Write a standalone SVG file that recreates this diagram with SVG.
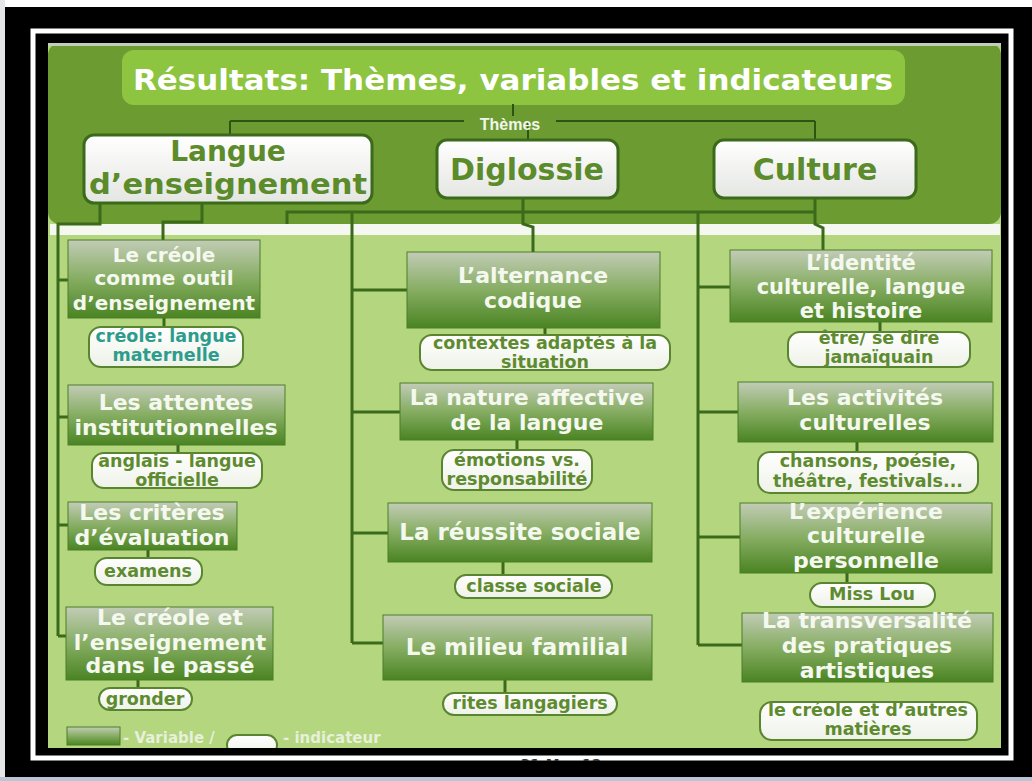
<svg xmlns="http://www.w3.org/2000/svg" width="1032" height="781" viewBox="0 0 1032 781">
<defs>
<linearGradient id="vg" x1="0" y1="0" x2="0" y2="1">
<stop offset="0" stop-color="#c2ccb6"/>
<stop offset="0.5" stop-color="#86ad62"/>
<stop offset="1" stop-color="#4a8422"/>
</linearGradient>
<linearGradient id="pg" x1="0" y1="0" x2="0" y2="1">
<stop offset="0" stop-color="#ffffff"/>
<stop offset="1" stop-color="#eef2e8"/>
</linearGradient>
<linearGradient id="tg" x1="0" y1="0" x2="0" y2="1">
<stop offset="0" stop-color="#ffffff"/>
<stop offset="1" stop-color="#e4e6e2"/>
</linearGradient>
<clipPath id="panelClip"><rect x="48" y="43" width="953" height="705"/></clipPath>
<style>
.vb{fill:url(#vg);stroke:#4d7d28;stroke-width:1}
.vt{font-family:"DejaVu Sans",Verdana,sans-serif;font-weight:bold;fill:#f5f8ef;text-anchor:middle}
.pill{fill:url(#pg);stroke:#5a8530;stroke-width:2}
.it{font-family:"DejaVu Sans",Verdana,sans-serif;font-weight:bold;font-size:17.5px;fill:#5e8b30;text-anchor:middle}
.tb{fill:url(#tg);stroke:#3a6a1a;stroke-width:3}
.tt{font-family:"DejaVu Sans",Verdana,sans-serif;font-weight:bold;font-size:30px;fill:#5b8b2b;text-anchor:middle}
.ct{fill:none;stroke:#2d5512;stroke-width:2}
.cb{fill:none;stroke:#3b6a1b;stroke-width:3}
</style>
</defs>

<!-- frame -->
<rect x="0" y="0" width="1032" height="781" fill="#ffffff"/>
<rect x="0" y="0" width="5" height="781" fill="#e4e6ea"/>
<rect x="5" y="7" width="1027" height="770" fill="#000000"/>
<rect x="0" y="777" width="1032" height="4" fill="#b9c6d4"/>
<rect x="33" y="31" width="978" height="727" fill="none" stroke="#ffffff" stroke-width="5"/>
<text x="561" y="769" font-family="'DejaVu Sans',sans-serif" font-size="14" font-weight="bold" fill="#333333" text-anchor="middle">31-Mar-12</text>
<rect x="36" y="761" width="990" height="16" fill="#000000"/>

<!-- panel -->
<rect x="48" y="43" width="953" height="705" fill="#b3d67f"/>
<rect x="48" y="43" width="953" height="181" rx="12" fill="#6c9b32"/>
<rect x="48" y="43" width="953" height="3" fill="#c4ccbc"/>
<rect x="50" y="224" width="950" height="11" fill="#f4f8f0"/>

<!-- title -->
<g id="title">
<rect x="122" y="50" width="783" height="55" rx="12" fill="#8dc540"/>
<text x="513" y="90" font-family="'DejaVu Sans',Verdana,sans-serif" font-weight="bold" font-size="29" fill="#ffffff" text-anchor="middle" textLength="760" lengthAdjust="spacingAndGlyphs">Résultats: Thèmes, variables et indicateurs</text>
</g>

<!-- connectors -->
<g id="connectors">
<path class="ct" d="M513 104V116M230 121H464M556 121H815M230 121V135M528 121V140M815 121V140"/>
<path class="cb" d="M100 203V224H58V636"/>
<path class="cb" d="M58 280H68M58 417H68M58 525H68M58 636H66"/>
<path class="cb" d="M202 203V222H163V240"/>
<path class="cb" d="M287 224V212H815"/>
<path class="cb" d="M523 198V224L533 227V252"/>
<path class="cb" d="M352 212V643M352 290H407M352 412H400M352 533H388M352 643H383"/>
<path class="cb" d="M815 198V224L823 228V250"/>
<path class="cb" d="M698 212V645M698 287H730M698 412H738M698 537H740M698 645H742"/>
<path class="cb" d="M164 318V327M178 445V453M148 550V558M138 680V688M545 328V335M517 440V450M503 562V575M505 680V693M880 322V332M857 442V452M847 573V583"/>
</g>
<text x="510" y="130" font-family="'Liberation Sans',Arial,sans-serif" font-weight="bold" font-size="16" fill="#f2f6ea" text-anchor="middle">Thèmes</text>

<!-- themes -->
<g id="theme-langue">
<rect class="tb" x="84" y="135" width="288" height="68" rx="10"/>
<text class="tt" x="228" y="161" font-size="28" style="font-size:28px">Langue</text>
<text class="tt" x="228" y="194" style="font-size:28px" textLength="278" lengthAdjust="spacingAndGlyphs">d’enseignement</text>
</g>
<g id="theme-diglossie">
<rect class="tb" x="437" y="140" width="181" height="58" rx="10"/>
<text class="tt" x="527" y="180">Diglossie</text>
</g>
<g id="theme-culture">
<rect class="tb" x="714" y="140" width="202" height="58" rx="10"/>
<text class="tt" x="815" y="180">Culture</text>
</g>

<!-- variables: langue -->
<g id="v-creole-outil">
<rect class="vb" x="68" y="240" width="192" height="78"/>
<text class="vt" font-size="20" x="164" y="262">Le créole</text>
<text class="vt" font-size="20" x="164" y="285">comme outil</text>
<text class="vt" font-size="20" x="164" y="310">d’enseignement</text>
</g>
<g id="i-creole-maternelle">
<rect class="pill" x="89" y="327" width="154" height="40" rx="12"/>
<text class="it" x="166" y="342" style="fill:#2e9c8c">créole: langue</text>
<text class="it" x="166" y="361" style="fill:#2e9c8c">maternelle</text>
</g>
<g id="v-attentes">
<rect class="vb" x="68" y="385" width="217" height="60"/>
<text class="vt" font-size="22" x="176" y="410">Les attentes</text>
<text class="vt" font-size="22" x="176" y="435">institutionnelles</text>
</g>
<g id="i-anglais">
<rect class="pill" x="92" y="453" width="170" height="35" rx="12"/>
<text class="it" x="177" y="467">anglais - langue</text>
<text class="it" x="177" y="486">officielle</text>
</g>
<g id="v-criteres">
<rect class="vb" x="68" y="502" width="169" height="48"/>
<text class="vt" font-size="22" x="152" y="520">Les critères</text>
<text class="vt" font-size="22" x="152" y="545">d’évaluation</text>
</g>
<g id="i-examens">
<rect class="pill" x="95" y="558" width="107" height="27" rx="12"/>
<text class="it" x="148" y="577">examens</text>
</g>
<g id="v-passe">
<rect class="vb" x="66" y="607" width="207" height="73"/>
<text class="vt" font-size="22" x="170" y="625">Le créole et</text>
<text class="vt" font-size="22" x="170" y="650">l’enseignement</text>
<text class="vt" font-size="22" x="170" y="673">dans le passé</text>
</g>
<g id="i-gronder">
<rect class="pill" x="99" y="688" width="93" height="22" rx="11"/>
<text class="it" x="145" y="705">gronder</text>
</g>

<!-- variables: diglossie -->
<g id="v-alternance">
<rect class="vb" x="407" y="252" width="253" height="76"/>
<text class="vt" font-size="22" x="533" y="283">L’alternance</text>
<text class="vt" font-size="22" x="533" y="308">codique</text>
</g>
<g id="i-contextes">
<rect class="pill" x="420" y="335" width="250" height="35" rx="12"/>
<text class="it" x="545" y="349">contextes adaptés à la</text>
<text class="it" x="545" y="368">situation</text>
</g>
<g id="v-affective">
<rect class="vb" x="400" y="383" width="253" height="57"/>
<text class="vt" font-size="22" x="527" y="405">La nature affective</text>
<text class="vt" font-size="22" x="527" y="430">de la langue</text>
</g>
<g id="i-emotions">
<rect class="pill" x="442" y="450" width="150" height="40" rx="12"/>
<text class="it" x="517" y="466">émotions vs.</text>
<text class="it" x="517" y="485">responsabilité</text>
</g>
<g id="v-reussite">
<rect class="vb" x="388" y="503" width="264" height="59"/>
<text class="vt" font-size="23" x="520" y="540">La réussite sociale</text>
</g>
<g id="i-classe">
<rect class="pill" x="455" y="575" width="157" height="23" rx="11"/>
<text class="it" x="534" y="592">classe sociale</text>
</g>
<g id="v-milieu">
<rect class="vb" x="383" y="615" width="269" height="65"/>
<text class="vt" font-size="23" x="517" y="655">Le milieu familial</text>
</g>
<g id="i-rites">
<rect class="pill" x="443" y="693" width="174" height="22" rx="11"/>
<text class="it" x="530" y="709">rites langagiers</text>
</g>

<!-- variables: culture -->
<g id="v-identite">
<rect class="vb" x="730" y="250" width="262" height="72"/>
<text class="vt" font-size="21" x="861" y="270">L’identité</text>
<text class="vt" font-size="21" x="861" y="294">culturelle, langue</text>
<text class="vt" font-size="21" x="861" y="318">et histoire</text>
</g>
<g id="i-jamaicain">
<rect class="pill" x="788" y="332" width="182" height="35" rx="12"/>
<text class="it" x="879" y="344">être/ se dire</text>
<text class="it" x="879" y="363">jamaïquain</text>
</g>
<g id="v-activites">
<rect class="vb" x="738" y="382" width="255" height="60"/>
<text class="vt" font-size="22" x="865" y="405">Les activités</text>
<text class="vt" font-size="22" x="865" y="430">culturelles</text>
</g>
<g id="i-chansons">
<rect class="pill" x="758" y="452" width="220" height="41" rx="12"/>
<text class="it" x="868" y="467">chansons, poésie,</text>
<text class="it" x="868" y="487">théâtre, festivals...</text>
</g>
<g id="v-experience">
<rect class="vb" x="740" y="503" width="252" height="70"/>
<text class="vt" font-size="22" x="866" y="519">L’expérience</text>
<text class="vt" font-size="22" x="866" y="543">culturelle</text>
<text class="vt" font-size="22" x="866" y="568">personnelle</text>
</g>
<g id="i-misslou">
<rect class="pill" x="810" y="583" width="125" height="24" rx="12"/>
<text class="it" x="872" y="600">Miss Lou</text>
</g>
<g id="v-transversalite">
<rect class="vb" x="742" y="613" width="251" height="69"/>
<text class="vt" font-size="22" x="867" y="628">La transversalité</text>
<text class="vt" font-size="22" x="867" y="653">des pratiques</text>
<text class="vt" font-size="22" x="867" y="678">artistiques</text>
</g>
<g id="i-matieres">
<rect class="pill" x="760" y="702" width="217" height="38" rx="12"/>
<text class="it" x="868" y="716">le créole et d’autres</text>
<text class="it" x="868" y="735">matières</text>
</g>

<!-- legend -->
<g id="legend">
<rect class="vb" x="67" y="727" width="53" height="18"/>
<text x="123" y="743" font-family="'DejaVu Sans',Verdana,sans-serif" font-weight="bold" font-size="15" fill="#e6f0da">- Variable /</text>
<g clip-path="url(#panelClip)">
<rect class="pill" x="227" y="735" width="50" height="20" rx="10"/>
</g>
<text x="283" y="743" font-family="'DejaVu Sans',Verdana,sans-serif" font-weight="bold" font-size="15" fill="#e6f0da">- indicateur</text>
</g>
</svg>
